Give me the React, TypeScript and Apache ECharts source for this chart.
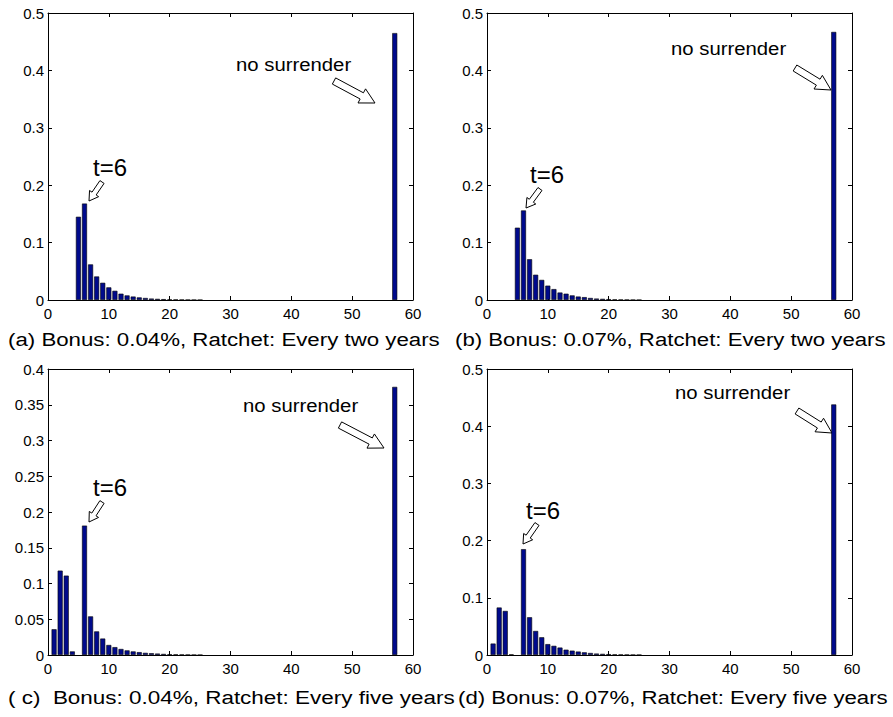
import React, { useEffect, useRef } from "react";
import * as echarts from "echarts";

// Surrender time (years) for the early-surrender bars
const periods = [1, 2, 3, 4, 5, 6, 7, 8, 9, 10, 11, 12, 13, 14, 15, 16, 17, 18, 19, 20, 21, 22, 23, 24, 25];
const noSurrenderTime = 57;

// (a) Bonus 0.04%, ratchet every two years
const probA = [0, 0, 0, 0, 0.145, 0.168, 0.062, 0.041, 0.030, 0.022, 0.016, 0.011, 0.008, 0.006, 0.0045, 0.0035, 0.0025, 0.002, 0.0015, 0.001, 0.0008, 0.0006, 0.0004, 0.0003, 0.0002];
// (b) Bonus 0.07%, ratchet every two years
const probB = [0, 0, 0, 0, 0.126, 0.156, 0.071, 0.044, 0.035, 0.025, 0.019, 0.013, 0.011, 0.008, 0.006, 0.005, 0.0035, 0.0025, 0.002, 0.0015, 0.001, 0.0007, 0.0005, 0.0003, 0.0002];
// (c) Bonus 0.04%, ratchet every five years
const probC = [0.036, 0.118, 0.111, 0.005, 0, 0.181, 0.054, 0.033, 0.023, 0.014, 0.011, 0.0084, 0.0065, 0.005, 0.004, 0.003, 0.0025, 0.002, 0.0015, 0.001, 0.0008, 0.0006, 0.0004, 0.0003, 0.0002];
// (d) Bonus 0.07%, ratchet every five years
const probD = [0.020, 0.083, 0.077, 0.001, 0, 0.185, 0.066, 0.042, 0.031, 0.019, 0.016, 0.013, 0.0093, 0.0076, 0.006, 0.0047, 0.0035, 0.0025, 0.002, 0.0015, 0.001, 0.0008, 0.0006, 0.0004, 0.0003];

const noSurrender = [0.465, 0.467, 0.375, 0.438];

const yMaxes = [0.5, 0.5, 0.4, 0.5];
const yIntervals = [0.1, 0.1, 0.05, 0.1];

const captions = [
  "(a) Bonus: 0.04%, Ratchet: Every two years",
  "(b) Bonus: 0.07%, Ratchet: Every two years",
  "( c)  Bonus: 0.04%, Ratchet: Every five years",
  "(d) Bonus: 0.07%, Ratchet: Every five years",
];

const FONT = "'Liberation Sans', Arial, sans-serif";
const BAR_COLOR = "#000a8c";

const grids = [
  { left: 48, top: 13, width: 365, height: 287 },
  { left: 487, top: 13, width: 365, height: 287 },
  { left: 48, top: 369, width: 365, height: 286 },
  { left: 487, top: 369, width: 365, height: 286 },
];

// annotation layout (pixels)
const t6Text = [
  { x: 93, y: 167 },
  { x: 530, y: 174 },
  { x: 93, y: 487 },
  { x: 526, y: 510 },
];
const t6Arrow = [
  { tail: [102, 182], tip: [89, 201] },
  { tail: [540, 189], tip: [526, 208] },
  { tail: [102, 502], tip: [89, 522] },
  { tail: [537, 524], tip: [523, 544] },
];
const nsText = [
  { x: 236, y: 64 },
  { x: 671, y: 48 },
  { x: 243, y: 405 },
  { x: 675, y: 392 },
];
const nsArrow = [
  { tail: [334, 81], tip: [375, 103] },
  { tail: [795, 68], tip: [831, 90] },
  { tail: [340, 425], tip: [384, 448] },
  { tail: [797, 411], tip: [832, 433] },
];
const captionPos = [
  { x: 8, y: 339, w: 432 },
  { x: 455, y: 339, w: 431 },
  { x: 8, y: 697, w: 447 },
  { x: 458, y: 697, w: 430 },
];

function arrowPoints(tail: number[], tip: number[], w1: number, w2: number, h: number) {
  const dx = tip[0] - tail[0];
  const dy = tip[1] - tail[1];
  const L = Math.hypot(dx, dy);
  const ux = dx / L, uy = dy / L;
  const nx = -uy, ny = ux;
  const bx = tip[0] - ux * h, by = tip[1] - uy * h;
  return [
    [tail[0] + nx * w1, tail[1] + ny * w1],
    [bx + nx * w1, by + ny * w1],
    [bx + nx * w2, by + ny * w2],
    [tip[0], tip[1]],
    [bx - nx * w2, by - ny * w2],
    [bx - nx * w1, by - ny * w1],
    [tail[0] - nx * w1, tail[1] - ny * w1],
  ];
}

export default function App() {
  const ref = useRef<HTMLDivElement>(null);
  useEffect(() => {
    if (!ref.current) return;
    const chart = echarts.init(ref.current, null, { renderer: "svg" });
    const probs = [probA, probB, probC, probD];

    const xAxis: any[] = [];
    const yAxis: any[] = [];
    const series: any[] = [];
    const graphic: any[] = [];

    const measure = (text: string, font: string) =>
      (echarts as any).format && (echarts as any).graphic
        ? (() => {
            const c = document.createElement("canvas").getContext("2d")!;
            c.font = font;
            return c.measureText(text).width;
          })()
        : 0;

    grids.forEach((g, i) => {
      const base = {
        gridIndex: i,
        type: "value",
        min: 0,
        max: 60,
        interval: 10,
        axisLine: { show: true, onZero: false, lineStyle: { color: "#000", width: 1 } },
        axisTick: { show: true, inside: true, length: 4, lineStyle: { color: "#000" } },
        splitLine: { show: false },
      };
      xAxis.push({
        ...base,
        position: "bottom",
        axisLabel: { show: true, color: "#000", fontSize: 15, fontFamily: FONT, margin: 6 },
      });
      xAxis.push({ ...base, position: "top", axisLabel: { show: false } });
      const ybase = {
        gridIndex: i,
        type: "value",
        min: 0,
        max: yMaxes[i],
        interval: yIntervals[i],
        axisLine: { show: true, onZero: false, lineStyle: { color: "#000", width: 1 } },
        axisTick: { show: true, inside: true, length: 4, lineStyle: { color: "#000" } },
        splitLine: { show: false },
      };
      yAxis.push({
        ...ybase,
        position: "left",
        axisLabel: { show: true, color: "#000", fontSize: 15, fontFamily: FONT, margin: 4 },
      });
      yAxis.push({ ...ybase, position: "right", axisLabel: { show: false } });

      const data: number[][] = [];
      periods.forEach((t, k) => {
        if (probs[i][k] > 0) data.push([t, probs[i][k]]);
      });
      data.push([noSurrenderTime, noSurrender[i]]);
      series.push({
        type: "bar",
        xAxisIndex: i * 2,
        yAxisIndex: i * 2,
        data,
        barWidth: 5,
        itemStyle: { color: BAR_COLOR, borderColor: "#000", borderWidth: 0.6 },
        silent: true,
      });

      graphic.push({
        type: "text",
        x: t6Text[i].x,
        y: t6Text[i].y,
        style: { text: "t=6", font: `24px ${FONT}`, fill: "#000", verticalAlign: "middle" },
      });
      graphic.push({
        type: "polygon",
        shape: { points: arrowPoints(t6Arrow[i].tail, t6Arrow[i].tip, 2.5, 5.5, 9) },
        style: { fill: "#fff", stroke: "#000", lineWidth: 1 },
      });
      graphic.push({
        type: "text",
        x: nsText[i].x,
        y: nsText[i].y,
        scaleX: 1.07,
        style: { text: "no surrender", font: `19px ${FONT}`, fill: "#000", verticalAlign: "middle" },
      });
      graphic.push({
        type: "polygon",
        shape: { points: arrowPoints(nsArrow[i].tail, nsArrow[i].tip, 3.5, 8, 15) },
        style: { fill: "#fff", stroke: "#000", lineWidth: 1 },
      });
      const capFont = `19px ${FONT}`;
      const natural = measure(captions[i], capFont) || 370;
      graphic.push({
        type: "text",
        x: captionPos[i].x,
        y: captionPos[i].y,
        scaleX: captionPos[i].w / natural,
        style: { text: captions[i], font: capFont, fill: "#000", verticalAlign: "middle" },
      });
    });

    chart.setOption({
      animation: false,
      backgroundColor: "#fff",
      grid: grids.map((g) => ({ ...g, containLabel: false })),
      xAxis,
      yAxis,
      series,
      graphic,
    });
    return () => chart.dispose();
  }, []);
  return (
    <div
      ref={ref}
      style={{ position: "fixed", left: 0, top: 0, width: 893, height: 717, background: "#fff" }}
    />
  );
}
